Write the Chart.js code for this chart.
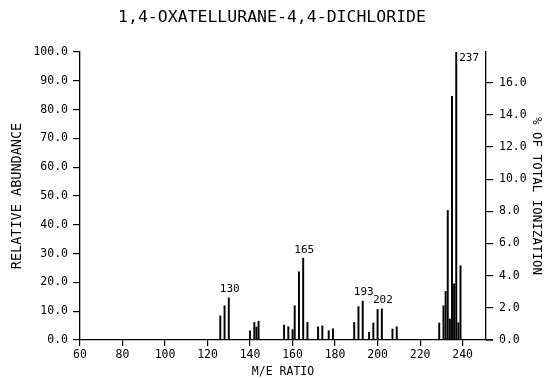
<!DOCTYPE html>
<html>
<head>
<meta charset="utf-8">
<script src="https://cdn.jsdelivr.net/npm/chart.js@4"></script>
<style>
  body { margin: 0; background: #fff; }
  canvas { display: block; }
</style>
</head>
<body>
<canvas id="myChart" width="544" height="378"></canvas>
<script>
// m/z values and relative abundance
var masses = [126, 128, 130, 140, 142, 143, 144, 156, 158, 160, 161, 163, 165, 167,
    172, 174, 177, 179, 189, 191, 193, 196, 198, 200, 202, 207, 209,
    229, 231, 232, 233, 234, 235, 236, 237, 238, 239]
var abundance = [8.4, 11.9, 14.6, 3.2, 6.1, 4.5, 6.5, 5.2, 4.6, 3.6, 11.9, 23.7, 28.4, 6.1,
    4.6, 4.9, 3.2, 3.9, 6.1, 11.6, 13.5, 2.7, 5.9, 10.6, 10.8, 3.8, 4.6,
    5.9, 11.9, 16.9, 45.0, 7.3, 84.6, 19.5, 100, 6.0, 25.8]
var labeledMasses = [130, 165, 193, 202, 237]

var xTicks = [60, 80, 100, 120, 140, 160, 180, 200, 220, 240]
var leftTicks = [0, 10, 20, 30, 40, 50, 60, 70, 80, 90, 100]
var rightTicks = [0, 2, 4, 6, 8, 10, 12, 14, 16]
var rightMax = 17.9   // % of total ionization matching 100 relative abundance

var mono = 'DejaVu Sans Mono'

var points = []
masses.map((m, i) => {
    points.push({ x: m, y: abundance[i] })
})

var peakLabels = {
    id: 'peakLabels',
    afterDatasetsDraw(chart) {
        var ctx = chart.ctx
        var xs = chart.scales.x
        var ys = chart.scales.y
        var area = chart.chartArea
        ctx.save()
        // the x axis line runs a little past the right axis
        ctx.strokeStyle = '#000'
        ctx.lineWidth = 1.3
        ctx.beginPath()
        ctx.moveTo(area.right, area.bottom)
        ctx.lineTo(area.right + 7, area.bottom)
        ctx.stroke()

        ctx.fillStyle = '#000'
        ctx.font = '11px "' + mono + '"'
        labeledMasses.forEach((m) => {
            var i = masses.indexOf(m)
            var px = xs.getPixelForValue(m)
            var py = ys.getPixelForValue(abundance[i])
            if (py - 14 < area.top) {
                // no room above the base peak: put it to the right
                ctx.textAlign = 'left'
                ctx.textBaseline = 'top'
                ctx.fillText(String(m), px + 3, py + 1)
            } else {
                ctx.textAlign = 'center'
                ctx.textBaseline = 'bottom'
                ctx.fillText(String(m), px + 1, py - 3)
            }
        })
        ctx.restore()
    }
}

var axisGrid = {
    drawOnChartArea: false,
    drawTicks: true,
    tickLength: 7,
    color: '#000',
    lineWidth: 1.2
}

var ctx = document.getElementById('myChart').getContext('2d')
var myChart = new Chart(ctx, {
    type: 'bar',
    data: {
        datasets: [{
            label: 'Relative abundance',
            data: points,
            backgroundColor: '#000',
            borderWidth: 0,
            barThickness: 1.3,
            yAxisID: 'y'
        }]
    },
    options: {
        responsive: false,
        animation: false,
        layout: { padding: 0 },
        plugins: {
            legend: { display: false },
            tooltip: { enabled: false },
            title: {
                display: true,
                text: '1,4-OXATELLURANE-4,4-DICHLORIDE',
                color: '#000',
                font: { family: mono, size: 16.5, weight: 'normal' },
                padding: { top: 8, bottom: 24.2 }
            }
        },
        scales: {
            x: {
                type: 'linear',
                min: 60,
                max: 251,
                offset: false,
                afterBuildTicks: (s) => { s.ticks = xTicks.map(v => ({ value: v })) },
                afterFit: (s) => { s.height = 38 },
                grid: Object.assign({}, axisGrid, { offset: false, tickLength: 6 }),
                border: { display: true, color: '#000', width: 1.3 },
                ticks: {
                    color: '#000',
                    padding: 2,
                    maxRotation: 0,
                    font: { family: mono, size: 11.5 }
                },
                title: {
                    display: true,
                    text: 'M/E RATIO',
                    color: '#000',
                    font: { family: mono, size: 11.5 },
                    padding: { top: 0, bottom: -1 }
                }
            },
            y: {
                position: 'left',
                min: 0,
                max: 100,
                afterBuildTicks: (s) => { s.ticks = leftTicks.map(v => ({ value: v })) },
                afterFit: (s) => { s.width = 80 },
                grid: axisGrid,
                border: { display: true, color: '#000', width: 1.3 },
                ticks: {
                    color: '#000',
                    padding: 5,
                    font: { family: mono, size: 11.5 },
                    callback: (v) => Number(v).toFixed(1)
                },
                title: {
                    display: true,
                    text: 'RELATIVE ABUNDANCE',
                    color: '#000',
                    font: { family: mono, size: 13.5 },
                    padding: { top: 9, bottom: 0 }
                }
            },
            y2: {
                position: 'right',
                min: 0,
                max: rightMax,
                afterBuildTicks: (s) => { s.ticks = rightTicks.map(v => ({ value: v })) },
                afterFit: (s) => { s.width = 58 },
                grid: axisGrid,
                border: { display: true, color: '#000', width: 1.3 },
                ticks: {
                    color: '#000',
                    padding: 6,
                    font: { family: mono, size: 11.5 },
                    callback: (v) => Number(v).toFixed(1)
                },
                title: {
                    display: true,
                    text: '% OF TOTAL IONIZATION',
                    color: '#000',
                    font: { family: mono, size: 12.5 },
                    padding: { top: 0, bottom: 0 }
                }
            }
        }
    },
    plugins: [peakLabels]
})
</script>
</body>
</html>
